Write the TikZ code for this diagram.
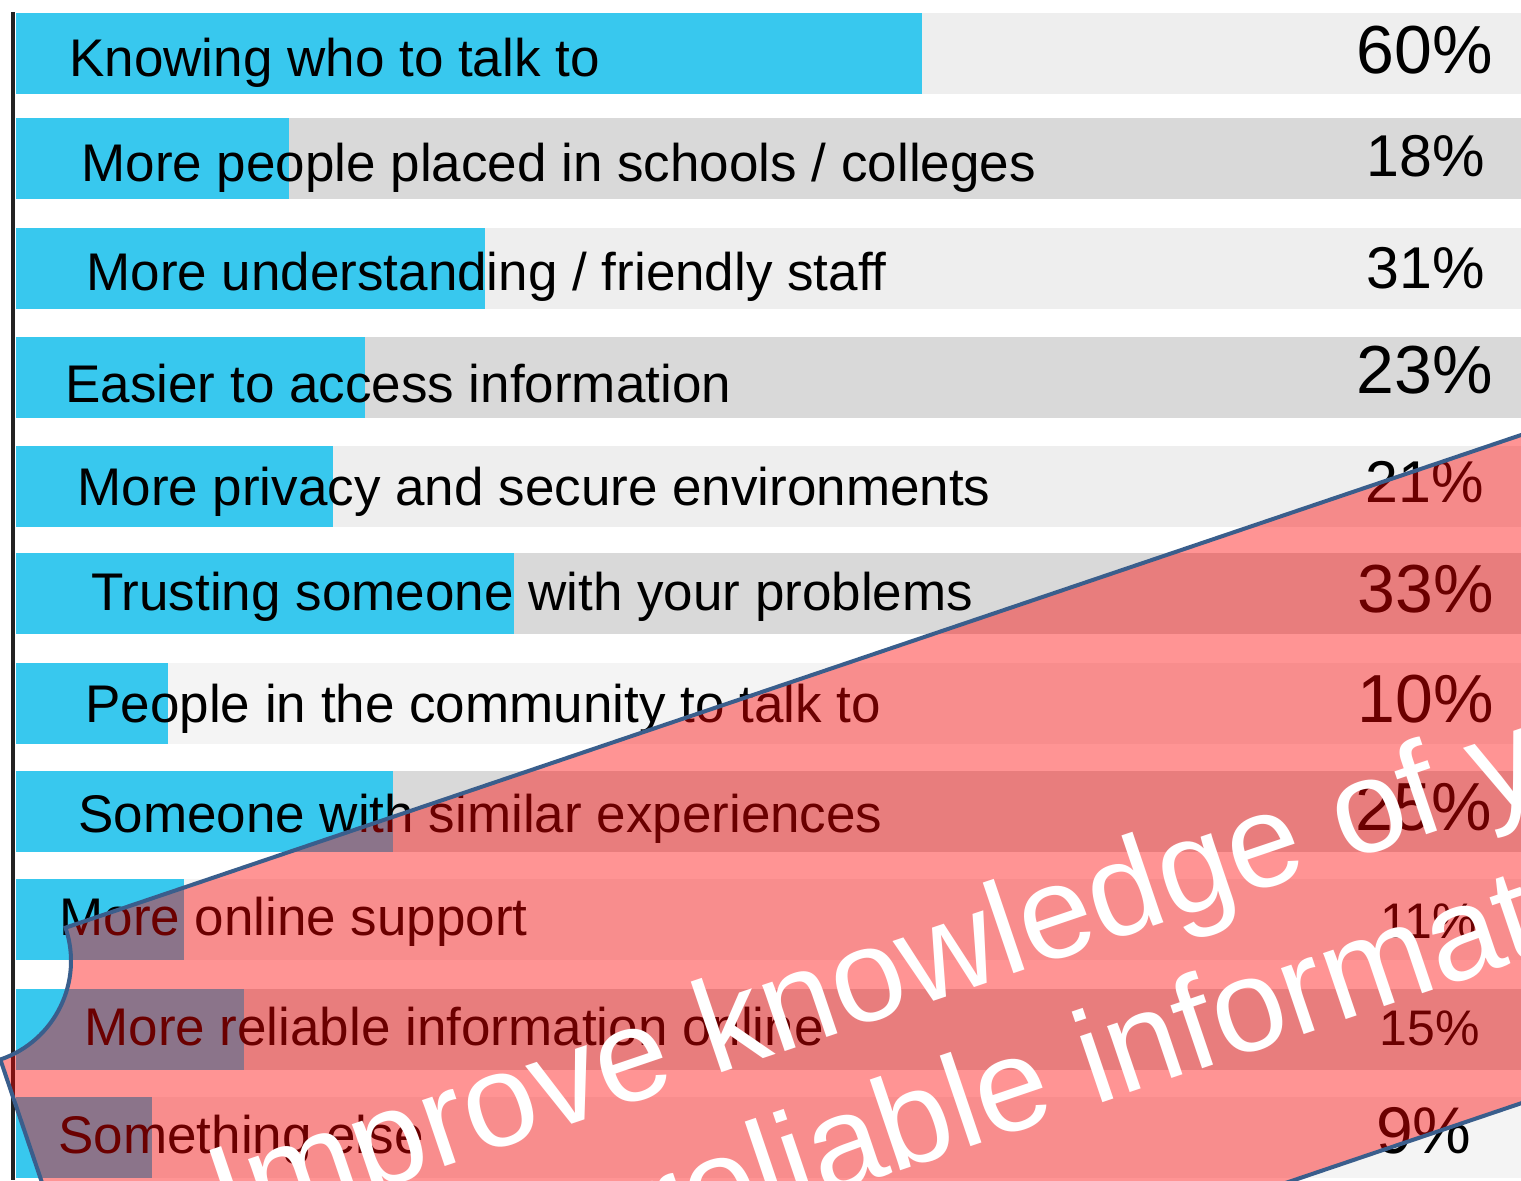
\documentclass[tikz,border=0pt]{standalone}
\usepackage{fontspec}
\setmainfont{Liberation Sans}
\definecolor{barblue}{RGB}{56,200,238}
\definecolor{rowlight}{RGB}{238,238,238}
\definecolor{rowdark}{RGB}{217,217,217}
\definecolor{rowpale}{RGB}{244,244,244}
\definecolor{bandline}{RGB}{58,94,140}
\definecolor{axisline}{RGB}{34,34,34}

\begin{document}
\begin{tikzpicture}[x=0.5pt, y=-0.5pt,
  row/.style={fill=#1},
  hit/.style={fill=barblue},
  axis/.style={draw=axisline, line width=1.75pt},
  lbl/.style={anchor=base west, inner sep=0pt, font=\fontsize{26.5}{30}\selectfont},
  pct/.style={anchor=base east, inner sep=0pt, font=\fontsize{#1}{#1}\selectfont},
  band/.style={fill=red, fill opacity=0.42, draw=bandline, line width=2pt},
  msg/.style={anchor=base west, inner sep=0pt, text=white, rotate=18.7,
    font=\fontsize{66}{79}\selectfont}]
  \useasboundingbox (0,0) rectangle (1521,1180);
  \fill[white] (0,0) rectangle (1521,1180);

  \foreach \t/\b/\bg/\lx/\ly/\txt/\pc/\px/\py/\ps [count=\i] in {
      12.7/922/rowlight/69/76/{Knowing who to talk to}/60/1493/73/34,
      118/289/rowdark/81/181/{More people placed in schools / colleges}/18/1485/176/29.5,
      227.7/485/rowlight/86/290/{More understanding / friendly staff}/31/1485/288/29.5,
      336.7/365/rowdark/65/402/{Easier to access information}/23/1493/393/34,
      446/333/rowlight/77/505/{More privacy and secure environments}/21/1484/502/29.5,
      553.3/514/rowdark/91/610/{Trusting someone with your problems}/33/1494/612/34,
      662.7/168/rowpale/85/722/{People in the community to talk to}/10/1494/722/34,
      771/393/rowdark/78/832/{Someone with similar experiences}/25/1492/830/34,
      879/184/rowpale/59/935/{More online support}/11/1477/938/25,
      989/244/rowdark/84/1045/{More reliable information online}/15/1480/1045/25,
      1097/152/rowpale/58/1153/{Something else}/9/1472/1153/33} {
    \fill[row=\bg] (16,\t) rectangle (1521,\t+81);
    \fill[hit] (16,\t) rectangle (\b,\t+81);
    \node[lbl] (lbl\i) at (\lx,\ly) {\txt};
    \node[pct=\ps] (pct\i) at (\px,\py) {\pc\%};
  }
  \draw[axis] (13,12) -- (13,1180);

  \begin{scope}
    \clip (0,0) rectangle (1521,1180);
    \begin{scope}[shift={(-33,961)}, rotate=18.7]
      \draw[band] (0,104) .. controls (57.4,104) and (104,57.4) .. (104,0)
        -- (1800,0) -- (1800,633) -- (104,633)
        .. controls (104,575.6) and (57.4,529) .. (0,529) -- cycle;
      \node[msg] (msg1) at (157,348) {Improve knowledge of your};
      \node[msg] (msg2) at (559,498) {reliable information};
    \end{scope}
  \end{scope}
\end{tikzpicture}
\end{document}
